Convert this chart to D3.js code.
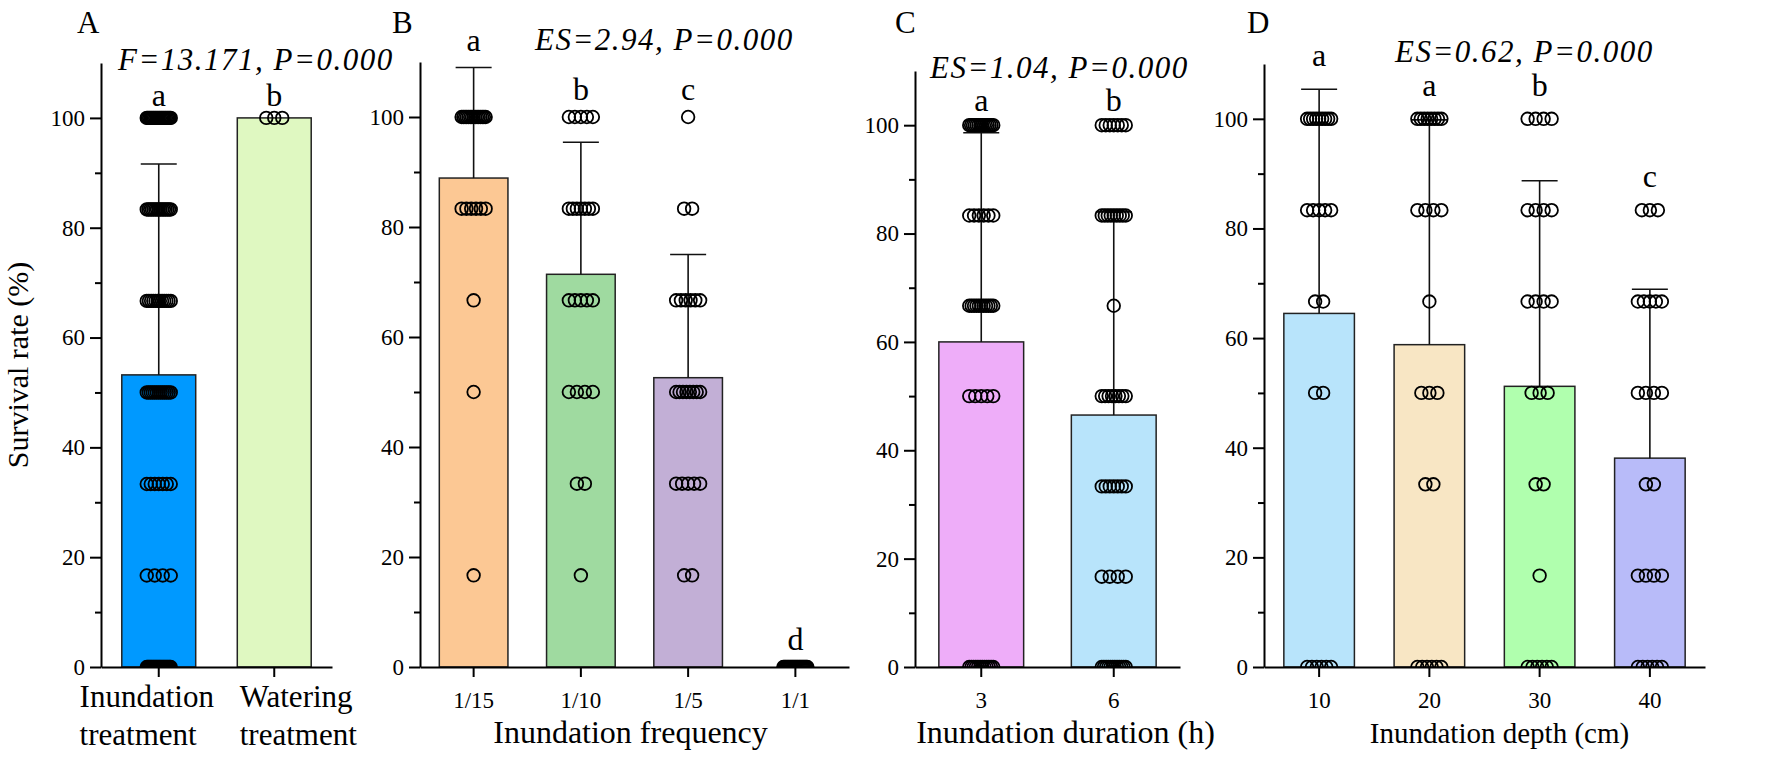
<!DOCTYPE html>
<html><head><meta charset="utf-8">
<script src="https://cdn.jsdelivr.net/npm/d3@7"></script>
<style>
body{margin:0;background:#fff}
svg{display:block}
text{font-family:"Liberation Serif","Times New Roman",serif;fill:#000}
</style>
</head><body>
<svg id="chart" width="1772" height="764"></svg>
<script>
// survival levels (6 plants per unit)
const levels = [0, 16.67, 33.33, 50, 66.67, 83.33, 100];

// ---- Panel A ----
const categoriesA = ["Inundation treatment", "Watering treatment"];
const meansA = [53.2, 100];
const sdA = [38.4, 0];
const lettersA = ["a", "b"];
const countsA = [[24,4,7,13,12,15,21],[0,0,0,0,0,0,3]];
const statA = "F=13.171, P=0.000";
const titleA = "";

// ---- Panel B ----
const categoriesB = ["1/15", "1/10", "1/5", "1/1"];
const meansB = [88.9, 71.4, 52.6, 0];
const sdB = [20.1, 24.0, 22.4, 0];
const lettersB = ["a", "b", "c", "d"];
const countsB = [[0,1,0,1,1,6,15],[0,1,2,4,5,7,5],[0,2,5,8,6,2,1],[24,0,0,0,0,0,0]];
const statB = "ES=2.94, P=0.000";
const titleB = "Inundation frequency";

// ---- Panel C ----
const categoriesC = ["3", "6"];
const meansC = [60.0, 46.5];
const sdC = [38.6, 37.5];
const lettersC = ["a", "b"];
const countsC = [[12,0,0,5,11,6,14],[12,4,7,8,1,9,7]];
const statC = "ES=1.04, P=0.000";
const titleC = "Inundation duration (h)";

// ---- Panel D ----
const categoriesD = ["10", "20", "30", "40"];
const meansD = [64.5, 58.8, 51.2, 38.1];
const sdD = [40.9, 41.0, 37.5, 30.8];
const lettersD = ["a", "a", "b", "c"];
const countsD = [[6,0,0,2,2,5,9],[6,0,2,3,1,4,8],[6,1,2,3,4,4,4],[6,4,2,4,5,3,0]];
const statD = "ES=0.62, P=0.000";
const titleD = "Inundation depth (cm)";

const yTicks = [0, 20, 40, 60, 80, 100];
const yMinor = [10, 30, 50, 70, 90];
const yLabel = "Survival rate (%)";

// ---- layout / style ----
const svg = d3.select("#chart");
const Y0 = 667;
const panels = [
  {tag:"A", x0:101, x1:332, yTop:63, tagX:77, statDx:17, statY:70, titleDx:0, titleSize:31, letterOff:12,
   multiLine:true, labelDx:[-12, 24],
   colors:["#0099FF","#DFF8C1"],
   data:{cats:categoriesA, means:meansA, sd:sdA, letters:lettersA, counts:countsA, stat:statA, title:titleA}},
  {tag:"B", x0:420, x1:849, yTop:62, tagX:392, statDx:115, statY:50, titleDx:-4, titleSize:32, letterOff:17,
   colors:["#FCC894","#9FDAA0","#C2AFD6","#C2AFD6"],
   data:{cats:categoriesB, means:meansB, sd:sdB, letters:lettersB, counts:countsB, stat:statB, title:titleB}},
  {tag:"C", x0:915, x1:1180, yTop:71, tagX:895, statDx:15, statY:78, titleDx:18, titleSize:32, letterOff:14,
   colors:["#EEADF9","#B8E4FB"],
   data:{cats:categoriesC, means:meansC, sd:sdC, letters:lettersC, counts:countsC, stat:statC, title:titleC}},
  {tag:"D", x0:1264, x1:1705, yTop:64, tagX:1247, statDx:131, statY:62, titleDx:15, titleSize:29, letterOff:23,
   colors:["#B8E4FB","#F8E6C4","#B0FFAE","#B8BBF9"],
   data:{cats:categoriesD, means:meansD, sd:sdD, letters:lettersD, counts:countsD, stat:statD, title:titleD}}
];

panels.forEach((p, pi) => {
  const d = p.data;
  const x = d3.scaleBand().domain(d.cats).range([p.x0, p.x1]).paddingInner(0.36).paddingOuter(0.18);
  const y = d3.scaleLinear().domain([0, 110]).range([Y0, p.yTop]);
  const g = svg.append("g");
  const cx = c => x(c) + x.bandwidth() / 2;

  // bars
  g.selectAll("rect.bar").data(d.cats).join("rect")
    .attr("x", c => x(c)).attr("width", x.bandwidth())
    .attr("y", (c, i) => y(d.means[i]))
    .attr("height", (c, i) => y(0) - y(d.means[i]))
    .attr("fill", (c, i) => p.colors[i])
    .attr("stroke", "#222").attr("stroke-width", 1.5);

  // error bars (upper whisker)
  const eb = g.append("g").attr("stroke", "#111").attr("stroke-width", 1.6);
  d.cats.forEach((c, i) => {
    if (d.sd[i] <= 0) return;
    eb.append("line").attr("x1", cx(c)).attr("x2", cx(c))
      .attr("y1", y(d.means[i])).attr("y2", y(d.means[i] + d.sd[i]));
    eb.append("line").attr("x1", cx(c) - 18).attr("x2", cx(c) + 18)
      .attr("y1", y(d.means[i] + d.sd[i])).attr("y2", y(d.means[i] + d.sd[i]));
  });

  // points (clipped at the x axis)
  const clipId = "clip" + pi;
  svg.append("clipPath").attr("id", clipId).append("rect")
    .attr("x", p.x0 - 5).attr("y", 0).attr("width", p.x1 - p.x0 + 10).attr("height", Y0);
  const pts = [];
  d.cats.forEach((c, i) => {
    d.counts[i].forEach((n, k) => {
      const sp = n > 1 ? Math.min(8, 24 / (n - 1)) : 0;
      for (let j = 0; j < n; j++) pts.push({x: cx(c) + (j - (n - 1) / 2) * sp, v: levels[k]});
    });
  });
  g.append("g").attr("clip-path", `url(#${clipId})`)
    .selectAll("circle").data(pts).join("circle")
    .attr("cx", q => q.x).attr("cy", q => y(q.v)).attr("r", 6.3)
    .attr("fill", "none").attr("stroke", "#000").attr("stroke-width", 1.8);

  // significance letters
  d.cats.forEach((c, i) => {
    const maxPt = d3.max(d.counts[i].map((n, k) => n > 0 ? levels[k] : -1));
    const top = Math.max(d.means[i] + d.sd[i], maxPt);
    g.append("text").attr("x", cx(c)).attr("y", y(top) - p.letterOff)
      .attr("text-anchor", "middle").attr("font-size", 32).text(d.letters[i]);
  });

  // axes
  const ya = g.append("g").attr("transform", `translate(${p.x0},0)`)
    .call(d3.axisLeft(y).tickValues(yTicks).tickSize(11).tickSizeOuter(0).tickPadding(5));
  const ym = g.append("g").attr("transform", `translate(${p.x0},0)`)
    .call(d3.axisLeft(y).tickValues(yMinor).tickSize(6).tickSizeOuter(0).tickFormat(""));
  const xa = g.append("g").attr("transform", `translate(0,${Y0})`)
    .call(d3.axisBottom(x).tickSize(10).tickSizeOuter(0).tickPadding(15)
      .tickFormat(p.multiLine ? "" : (v => v)));
  [ya, ym, xa].forEach(a => {
    a.attr("font-family", null).attr("font-size", 23);
    a.selectAll("path,line").attr("stroke", "#000").attr("stroke-width", 2);
  });
  ym.select("path").remove();

  if (p.multiLine) {
    d.cats.forEach((c, i) => {
      const lines = c.split(" ");
      const t = g.append("text").attr("font-size", 31);
      lines.forEach((ln, li) => t.append("tspan").attr("y", 707 + li * 38).text(ln));
      const w = d3.max(t.selectAll("tspan").nodes().map(n => n.getComputedTextLength()));
      t.selectAll("tspan").attr("x", cx(c) - w / 2 + p.labelDx[i]);
    });
  }

  // axis title
  if (d.title) {
    g.append("text").attr("x", (p.x0 + p.x1) / 2 + p.titleDx).attr("y", 743)
      .attr("text-anchor", "middle").attr("font-size", p.titleSize).text(d.title);
  }
  // stat text
  g.append("text").attr("x", p.x0 + p.statDx).attr("y", p.statY)
    .attr("font-size", 31).attr("font-style", "italic").attr("letter-spacing", 1.5).text(d.stat);
  // panel tag
  g.append("text").attr("x", p.tagX).attr("y", 33).attr("font-size", 31).text(p.tag);
});

// y axis label
svg.append("text").attr("transform", `translate(28,${(Y0 + 63) / 2}) rotate(-90)`)
  .attr("text-anchor", "middle").attr("font-size", 30).text(yLabel);
</script>
</body></html>
